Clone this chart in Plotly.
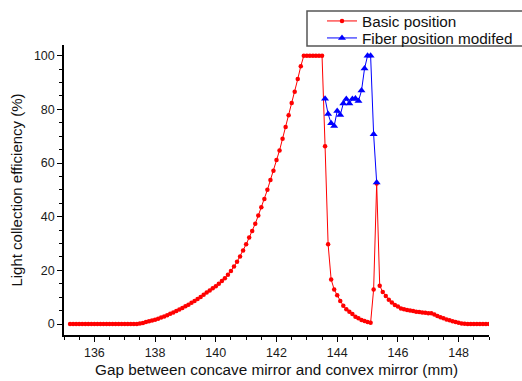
import plotly.graph_objects as go

# ---- data ----
x_basic = [
    135.2, 135.3, 135.4, 135.5, 135.6, 135.7, 135.8, 135.9, 136.0, 136.1,
    136.2, 136.3, 136.4, 136.5, 136.6, 136.7, 136.8, 136.9, 137.0, 137.1,
    137.2, 137.3, 137.4, 137.5, 137.6, 137.7, 137.8, 137.9, 138.0, 138.1,
    138.2, 138.3, 138.4, 138.5, 138.6, 138.7, 138.8, 138.9, 139.0, 139.1,
    139.2, 139.3, 139.4, 139.5, 139.6, 139.7, 139.8, 139.9, 140.0, 140.1,
    140.2, 140.3, 140.4, 140.5, 140.6, 140.7, 140.8, 140.9, 141.0, 141.1,
    141.2, 141.3, 141.4, 141.5, 141.6, 141.7, 141.8, 141.9, 142.0, 142.1,
    142.2, 142.3, 142.4, 142.5, 142.6, 142.7, 142.8, 142.9, 143.0, 143.1,
    143.2, 143.3, 143.4, 143.5, 143.6, 143.7, 143.8, 143.9, 144.0, 144.1,
    144.2, 144.3, 144.4, 144.5, 144.6, 144.7, 144.8, 144.9, 145.0, 145.1,
    145.2, 145.3, 145.4, 145.5, 145.6, 145.7, 145.8, 145.9, 146.0, 146.1,
    146.2, 146.3, 146.4, 146.5, 146.6, 146.7, 146.8, 146.9, 147.0, 147.1,
    147.2, 147.3, 147.4, 147.5, 147.6, 147.7, 147.8, 147.9, 148.0, 148.1,
    148.2, 148.3, 148.4, 148.5, 148.6, 148.7, 148.8, 148.9, 149.0,
]
y_basic = [
    0, 0, 0, 0, 0, 0, 0, 0, 0, 0,
    0, 0, 0, 0, 0, 0, 0, 0, 0, 0,
    0, 0, 0, 0.2, 0.4, 0.7, 1.0, 1.3, 1.6, 2.0,
    2.4, 2.8, 3.3, 3.8, 4.3, 4.8, 5.4, 6.0, 6.6, 7.2,
    7.9, 8.6, 9.3, 10.1, 10.9, 11.7, 12.5, 13.3, 14.1, 15.0,
    16.0, 17.1, 18.4, 19.8, 21.4, 23.2, 25.2, 27.4, 29.7, 32.2,
    34.7, 37.4, 40.4, 43.5, 46.6, 50.0, 53.7, 57.1, 61.1, 64.7,
    69.1, 73.4, 77.8, 82.4, 86.6, 91.3, 96.1, 100, 100, 100,
    100, 100, 100, 100, 66.3, 29.7, 16.6, 12.9, 10.7, 8.6,
    6.8, 5.5, 4.6, 3.7, 2.7, 2.1, 1.5, 1.1, 0.7, 0.5,
    12.9, 52.4, 14.3, 11.9, 10.4, 9.0, 8.0, 7.1, 6.5, 5.8,
    5.5, 5.2, 5.0, 4.8, 4.6, 4.5, 4.3, 4.2, 4.0, 4.0,
    3.5, 3.0, 2.5, 2.1, 1.7, 1.4, 1.0, 0.7, 0.5, 0.2,
    0.1, 0, 0, 0, 0, 0, 0, 0, 0,
]

x_fiber = [143.6, 143.7, 143.8, 143.9, 144.0, 144.1, 144.2, 144.3, 144.4,
           144.5, 144.6, 144.7, 144.8, 144.9, 145.0, 145.1, 145.2, 145.3]
y_fiber = [84.0, 78.3, 74.8, 73.8, 79.4, 77.9, 82.2, 83.9, 82.2,
           83.9, 84.1, 83.1, 87.0, 95.2, 100, 100, 70.7, 52.7]

x_ticks = [136, 138, 140, 142, 144, 146, 148]
y_ticks = [0, 20, 40, 60, 80, 100]

FONT = "Liberation Sans, Arial, sans-serif"

fig = go.Figure()
fig.add_trace(go.Scatter(
    x=x_basic, y=y_basic, name="Basic position", mode="lines+markers",
    line=dict(color="#FF0000", width=1),
    marker=dict(symbol="circle", size=4.5, color="#FF0000"),
    legend="legend",
))
fig.add_trace(go.Scatter(
    x=x_fiber, y=y_fiber, name="Fiber position modifed", mode="lines+markers",
    line=dict(color="#0000FF", width=1),
    marker=dict(symbol="triangle-up", size=7, color="#0000FF"),
    legend="legend2",
))

axis_common = dict(
    showline=True, linecolor="black", linewidth=1.5, mirror=False,
    showgrid=False, zeroline=False, ticks="outside", ticklen=5,
    tickwidth=1.2, tickcolor="black", automargin=False,
    tickfont=dict(family=FONT, size=12.5, color="#1a1a1a"),
)

fig.update_xaxes(
    range=[135, 149], tickvals=x_ticks, ticktext=[str(v) for v in x_ticks],
    minor=dict(dtick=0.5, tick0=135, ticks="outside", ticklen=3,
               tickcolor="black", tickwidth=1),
    title=dict(text="Gap between concave mirror and convex mirror (mm)",
               font=dict(family=FONT, size=15.3, color="#111111"), standoff=6),
    **axis_common,
)
fig.update_yaxes(
    range=[-4.1, 104], tickvals=y_ticks, ticktext=[str(v) for v in y_ticks],
    minor=dict(dtick=5, tick0=0, ticks="outside", ticklen=3,
               tickcolor="black", tickwidth=1),
    title=dict(text="Light collection efficiency (%)",
               font=dict(family=FONT, size=15, color="#111111"), standoff=8),
    **axis_common,
)

# legend frame (paper coordinates; plot area spans 64..489 px by 45..335 px)
fig.add_shape(
    type="rect", xref="paper", yref="paper",
    x0=(307 - 64) / 425, x1=(526 - 64) / 425,
    y0=(335 - 46) / 290, y1=(335 - 11) / 290,
    line=dict(color="#555555", width=1.5), fillcolor="rgba(0,0,0,0)",
    layer="above",
)

legend_common = dict(
    xanchor="left", yanchor="middle", borderwidth=0,
    bgcolor="rgba(0,0,0,0)", itemwidth=30,
    font=dict(family=FONT, size=15.3, color="#111111"),
)

fig.update_layout(
    width=522, height=381,
    margin=dict(l=64, r=33, t=45, b=46, autoexpand=False),
    paper_bgcolor="white", plot_bgcolor="white",
    font=dict(family=FONT, color="#111111"),
    showlegend=True,
    legend=dict(x=(322 - 64) / 425, y=(335 - 21) / 290, **legend_common),
    legend2=dict(x=(322 - 64) / 425, y=(335 - 38) / 290, **legend_common),
)

fig.write_html(
    "out.html",
    config={"displayModeBar": False},
    post_script="document.body.style.margin='0';document.body.style.overflow='hidden';",
)
